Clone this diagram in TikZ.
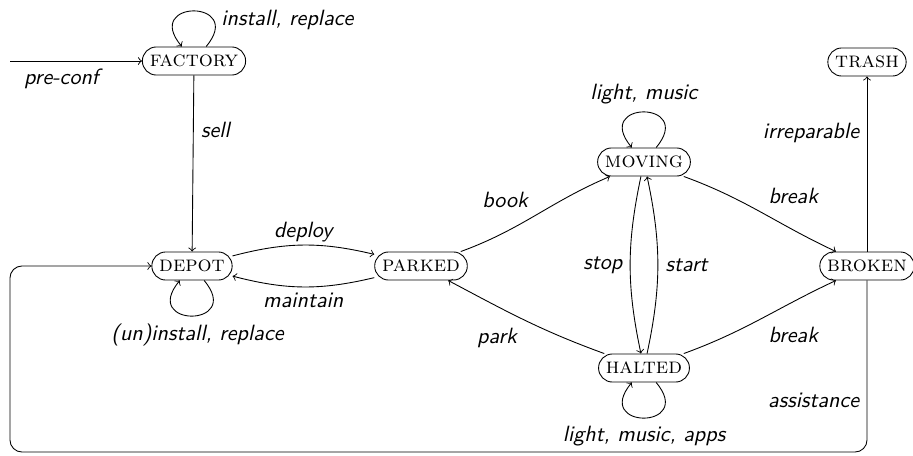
\documentclass[tikz,border=0pt]{standalone}
\begin{document}
\begin{tikzpicture}[x=0.4525pt, y=-0.4525pt, >=to,
  state/.style={draw, rectangle, rounded corners=6.3pt, minimum height=12.7pt, inner xsep=3.33pt, font=\scshape},
  lbl/.style={font=\sffamily\itshape},
  every edge/.style={draw, ->},
  selfloop/.style={min distance=28pt}]
\useasboundingbox (0,0) rectangle (913,455);
% states
\node[state] (factory) at (194,61) {factory};
\node[state] (depot) at (192,266) {depot};
\node[state] (parked) at (421,266) {parked};
\node[state] (moving) at (644,162) {moving};
\node[state] (halted) at (644,368) {halted};
\node[state] (broken) at (867,266) {broken};
\node[state] (trash) at (867,62) {trash};
% helper coordinates
\coordinate (init) at (10,61);
\coordinate (cbr) at (867,452);
\coordinate (cbl) at (10,452);
\coordinate (ctl) at (10,266);
% initial
\draw[->] (init) -- node[lbl, pos=0.39, below] {pre-conf} (factory);
% loops
\path (factory) edge[selfloop, out=50, in=130] node[lbl, pos=0.25, right] {install, replace} (factory);
\path (depot) edge[selfloop, out=-50, in=-130] node[lbl, pos=0.5, below, xshift=2.5pt] {(un)install, replace} (depot);
\path (moving) edge[selfloop, out=50, in=130] node[lbl, pos=0.5, above] {light, music} (moving);
\path (halted) edge[selfloop, out=-50, in=-130] node[lbl, pos=0.5, below] {light, music, apps} (halted);
% transitions
\path (factory) edge node[lbl, pos=0.31, right] {sell} (depot);
\path (depot) edge[bend left=14] node[lbl, above, yshift=-2.2pt] {deploy} (parked);
\path (parked) edge[bend left=14] node[lbl, below, yshift=1pt] {maintain} (depot);
\path (parked) edge[out=20, in=203] node[lbl, above left] {book} (moving);
\path (halted) edge[out=160, in=-28] node[lbl, below left] {park} (parked);
\path (moving) edge[bend right=12] node[lbl, left] {stop} (halted);
\path (halted) edge[bend right=12] node[lbl, right] {start} (moving);
\path (moving) edge[out=-20, in=155] node[lbl, above right] {break} (broken);
\path (halted) edge[out=20, in=205] node[lbl, below right] {break} (broken);
\path (broken) edge node[lbl, pos=0.68, left] {irreparable} (trash);
\draw[->, rounded corners=5.4pt] (broken) -- node[lbl, pos=0.7, left] {assistance} (cbr) -- (cbl) -- (ctl) -- (depot);
\end{tikzpicture}
\end{document}
